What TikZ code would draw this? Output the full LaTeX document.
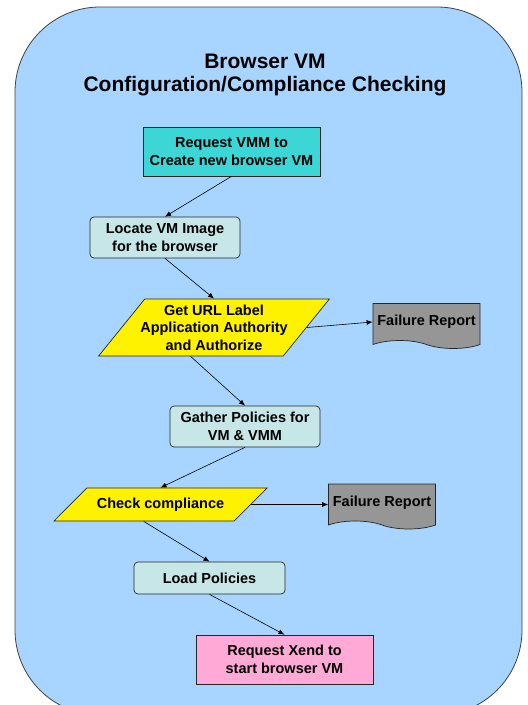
\documentclass[tikz,border=0pt]{standalone}
\usepackage{fontspec}
\setmainfont{Liberation Sans}
\usetikzlibrary{shapes.geometric}
\usetikzlibrary{shapes.symbols}
\usetikzlibrary{arrows.meta}
\definecolor{bgblue}{RGB}{168,213,255}
\definecolor{turq}{RGB}{60,214,214}
\definecolor{pale}{RGB}{198,230,232}
\definecolor{xpink}{RGB}{255,170,214}
\definecolor{failgray}{RGB}{150,150,150}
\tikzset{>={Latex[length=6pt,width=5pt]}}
\tikzset{ed/.style={->,line width=0.6pt}}
\tikzset{blk/.style={draw=black!85,line width=0.7pt,inner sep=0pt,align=center,font=\bfseries\fontsize{14.5}{17.5}\selectfont}}
\tikzset{sq/.style={blk,minimum width=177pt,minimum height=49pt}}
\tikzset{rbox/.style={blk,fill=pale,rounded corners=4pt,minimum width=150pt,minimum height=41pt}}
\tikzset{io/.style={blk,fill=yellow,trapezium,trapezium stretches body=true}}
\tikzset{doc/.style={blk,fill=failgray,tape,tape bend top=none,tape bend bottom=out and in,tape bend height=8pt,minimum width=107pt,minimum height=45pt}}

\begin{document}
\begin{tikzpicture}[x=1pt,y=-1pt]
        \clip (0,0) rectangle (528,705);
        \draw[draw=black!75, line width=0.8pt, fill=bgblue, rounded corners=85pt] (15,7) rectangle (522,715);

        \node[font=\bfseries\fontsize{21}{23}\selectfont, align=center] (ttl) at (265,74.5) {Browser VM\\Configuration/Compliance Checking};

        \node[sq, fill=turq] (req) at (231.5,151.5) {Request VMM to\\Create new browser VM};
        \node[rbox] (loc) at (165,237.5) {Locate VM Image\\for the browser};
        \node[io, inner ysep=5.7pt, inner xsep=-4.5pt, trapezium left angle=51, trapezium right angle=129, minimum width=230pt, minimum height=57pt] (gurl) at (214,327.5) {Get URL Label\\Application Authority\\and Authorize};
        \node[doc] (fr1) at (426.5,322) {Failure Report};
        \node[rbox] (gath) at (245,426.5) {Gather Policies for\\VM \& VMM};
        \node[io, inner ysep=9.7pt, trapezium left angle=45, trapezium right angle=135, minimum width=213pt, minimum height=33pt] (chk) at (160.5,504.5) {Check compliance};
        \node[doc] (fr2) at (382,502.5) {Failure Report};
        \node[rbox, minimum width=151pt, minimum height=32pt] (load) at (209.5,578) {Load Policies};
        \node[sq, fill=xpink] (xend) at (284.5,659.5) {Request Xend to\\start browser VM};

        \draw[ed] (req.south) -- (loc.north);
        \draw[ed] (loc.south) -- (gurl.north);
        \draw[ed] (gurl.right side) -- (fr1.west);
        \draw[ed] (gurl.bottom side) -- (gath.north);
        \draw[ed] (gath.south) -- (chk.north);
        \draw[ed] (chk.right side) -- (fr2.west |- chk.right side);
        \draw[ed] (chk.bottom side) -- (load.north);
        \draw[ed] (load.south) -- (xend.north);
\end{tikzpicture}
\end{document}
